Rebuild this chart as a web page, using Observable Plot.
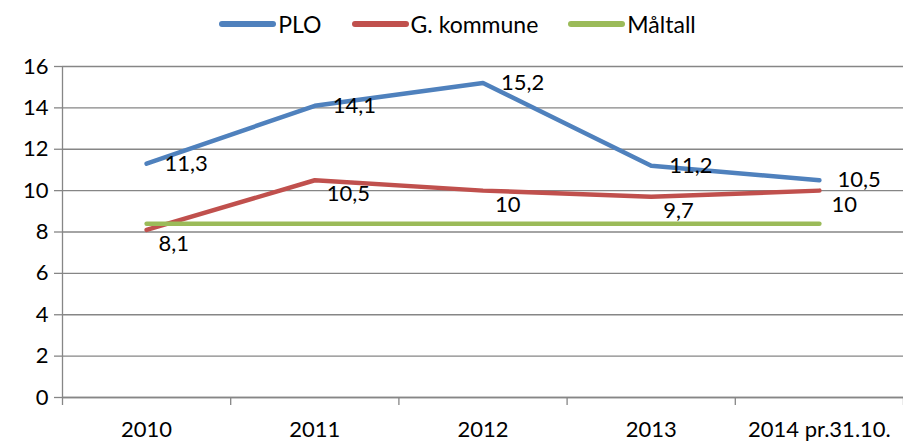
<!DOCTYPE html>
<html><head><meta charset="utf-8">
<script src="https://cdn.jsdelivr.net/npm/d3@7"></script>
<script src="https://cdn.jsdelivr.net/npm/@observablehq/plot@0.6"></script>
<style>
body{margin:0;background:#fff;font-family:Lato,"Open Sans",sans-serif;}
#legend{height:50px;display:flex;justify-content:center;align-items:center;gap:30px;font-size:23px;color:#000;box-sizing:border-box;padding-left:12px;padding-bottom:2px}
.item{display:flex;align-items:center;gap:2px}
.sw{width:57px;height:6px;border-radius:3px}
</style></head><body>
<div id="legend"></div>
<div id="chart"></div>
<script>
const categories = ["2010","2011","2012","2013","2014 pr.31.10."];
const seriesNames = ["PLO","G. kommune","Måltall"];
const plo = [11.3, 14.1, 15.2, 11.2, 10.5];
const kommune = [8.1, 10.5, 10, 9.7, 10];
const maltall = [8.4, 8.4, 8.4, 8.4, 8.4];
const yTicks = [0,2,4,6,8,10,12,14,16];
const colors = ["#4f81bd","#c0504d","#9bbb59"];

const lg = document.getElementById("legend");
seriesNames.forEach((n,i)=>{
  const d = document.createElement("div"); d.className="item";
  d.innerHTML = `<span class="sw" style="background:${colors[i]}"></span><span>${n}</span>`;
  lg.appendChild(d);
});

const rows = [];
[plo, kommune, maltall].forEach((arr,s)=>arr.forEach((v,i)=>rows.push({s:seriesNames[s], i, v})));
const fmt = v => String(v).replace(".", ",");
const bounds = d3.range(categories.length+1).map(k=>k-0.5);
const FS = 22;

const chart = Plot.plot({
  width: 903, height: 391,
  marginTop: 16, marginBottom: 44, marginLeft: 62, marginRight: 0,
  style: {fontFamily: "Lato, 'Open Sans', sans-serif", fontSize: FS + "px", color: "#000"},
  x: {domain: [-0.5, categories.length-0.5]},
  y: {domain: [0,16]},
  color: {domain: seriesNames, range: colors},
  marks: [
    Plot.gridY(yTicks, {stroke: "#868686", strokeOpacity: 1, strokeWidth: 1.3}),
    Plot.axisY(yTicks, {tickSize: 8, tickPadding: 6, stroke: "#868686", strokeWidth: 1.3, label: null, fontSize: FS, fill: "#000"}),
    Plot.axisX(bounds, {tickSize: 8, tickFormat: () => "", stroke: "#868686", strokeWidth: 1.3, label: null}),
    Plot.axisX(d3.range(categories.length), {tickSize: 0, tickPadding: 24, tickFormat: i => categories[i], label: null, fontSize: FS, fill: "#000"}),
    Plot.ruleY([0], {stroke: "#868686", strokeWidth: 1.3}),
    Plot.ruleX([-0.5], {y1: 0, y2: 16, stroke: "#868686", strokeWidth: 1.3}),
    Plot.line(rows, {x: "i", y: "v", z: "s", stroke: "s", strokeWidth: 4.5, strokeLinecap: "round", strokeLinejoin: "round"}),
    Plot.text(rows.filter(d=>d.s===seriesNames[0]), {x: "i", y: "v", text: d=>fmt(d.v), textAnchor: "start", dx: 18, dy: 0, fill: "#000", fontSize: FS}),
    Plot.text(rows.filter(d=>d.s===seriesNames[1]), {x: "i", y: "v", text: d=>fmt(d.v), textAnchor: "start", dx: 12, dy: 14, fill: "#000", fontSize: FS})
  ]
});
document.getElementById("chart").appendChild(chart);
</script>
</body></html>
